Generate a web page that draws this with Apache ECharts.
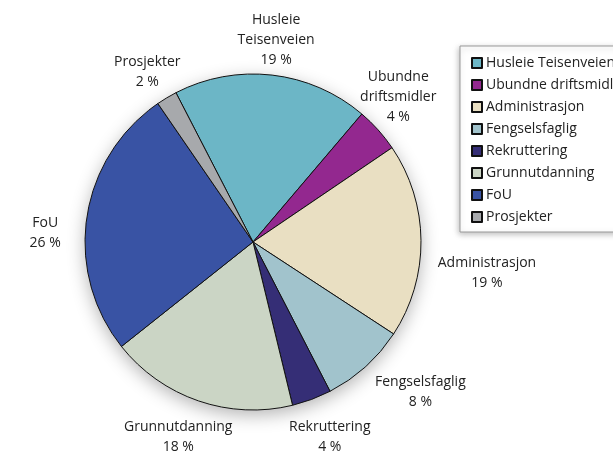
<!DOCTYPE html>
<html>
<head>
<meta charset="utf-8">
<script src="https://cdn.jsdelivr.net/npm/echarts@6/dist/echarts.min.js"></script>
<style>
  html, body { margin: 0; padding: 0; background: #fff; }
  #chart { width: 613px; height: 454px; }
</style>
</head>
<body>
<div id="chart"></div>
<script>
// andeler i prosent, lest av figuren
const categories = ['Husleie Teisenveien', 'Ubundne driftsmidler', 'Administrasjon', 'Fengselsfaglig',
  'Rekruttering', 'Grunnutdanning', 'FoU', 'Prosjekter'];
const values = [18.8, 4.3, 18.7, 8.2, 3.8, 18.1, 26.1, 2.0];
const colors = ['#6cb6c6', '#93288f', '#e9dfc2', '#a1c3cc', '#352e76', '#cbd5c5', '#3953a4', '#a7a9ac'];

// plassering av etikettene: avstand fra sentrum og vinkeljustering (grader, med klokka)
const labelDist = [203, 205, 236, 225, 210, 209, 208, 200];
const labelShift = [0, -3, 8, -6, -1, 2, -6, -1];

const center = [253, 242];
const radius = 168;
const startAngle = 117.3;
const total = values.reduce((a, b) => a + b, 0);

// midtvinkel for hver sektor (grader, mot klokka fra kl 3)
const midAngles = [];
let acc = 0;
values.forEach(v => {
  midAngles.push(startAngle - (acc + v / 2) / total * 360);
  acc += v;
});

const chart = echarts.init(document.getElementById('chart'));

const option = {
  animation: false,
  textStyle: { fontFamily: 'Open Sans' },
  legend: {
    orient: 'vertical',
    left: 460,
    top: 46,
    z: 10,
    data: categories,
    icon: 'rect',
    itemWidth: 10,
    itemHeight: 10,
    itemGap: 6,
    padding: [9, 12, 7, 11],
    borderColor: '#999',
    borderWidth: 1,
    backgroundColor: '#fff',
    shadowColor: 'rgba(0,0,0,0.25)',
    shadowBlur: 6,
    shadowOffsetX: -1,
    shadowOffsetY: 2,
    textStyle: { fontSize: 14, color: '#222', lineHeight: 16, fontFamily: 'Open Sans', padding: [0, 0, 0, -1] },
    selectedMode: false
  },
  series: [
    {
      // skygge bak kakediagrammet
      type: 'pie',
      silent: true,
      center: center,
      radius: radius,
      z: 1,
      label: { show: false },
      labelLine: { show: false },
      itemStyle: {
        color: '#fff',
        shadowColor: 'rgba(0,0,0,0.3)',
        shadowBlur: 18,
        shadowOffsetY: 5
      },
      data: [{ value: 1 }]
    },
    {
      type: 'pie',
      z: 2,
      center: center,
      radius: radius,
      startAngle: startAngle,
      clockwise: true,
      color: colors,
      itemStyle: { borderColor: '#111', borderWidth: 1 },
      emphasis: { disabled: true },
      labelLine: { show: false, length: 10, length2: 0 },
      label: {
        show: true,
        position: 'outside',
        fontSize: 14,
        lineHeight: 20,
        color: '#222',
        fontFamily: 'Open Sans',
        formatter: p => p.name.replace(' ', '\n') + '\n' + Math.round(p.percent) + ' %'
      },
      labelLayout: function (params) {
        const i = params.dataIndex;
        const a = (midAngles[i] - labelShift[i]) * Math.PI / 180;
        return {
          x: center[0] + Math.cos(a) * labelDist[i],
          y: center[1] - Math.sin(a) * labelDist[i],
          align: 'center',
          verticalAlign: 'middle'
        };
      },
      data: categories.map((c, i) => ({ name: c, value: values[i] }))
    }
  ]
};

chart.setOption(option);
</script>
</body>
</html>
